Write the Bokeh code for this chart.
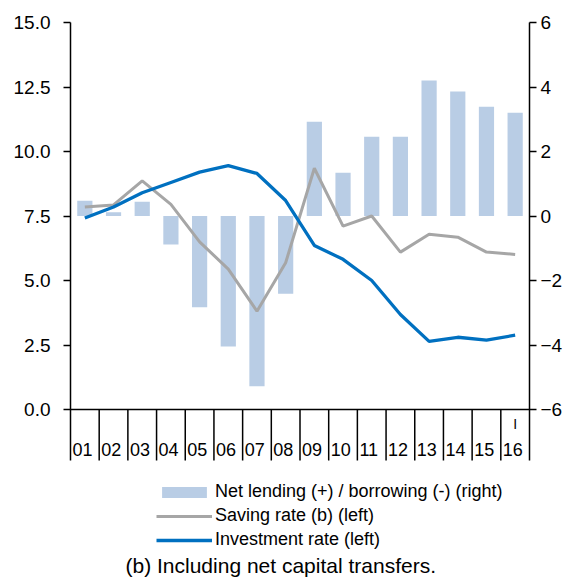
from bokeh.plotting import figure
from bokeh.models import (Range1d, LinearAxis, FixedTicker, NumeralTickFormatter,
                          Span, Legend, LegendItem, Label, ColumnDataSource)
from bokeh.core.properties import value
from bokeh.embed import file_html
from bokeh.resources import INLINE

years = ["01", "02", "03", "04", "05", "06", "07", "08",
         "09", "10", "11", "12", "13", "14", "15", "16"]
net_lending = [0.47, 0.12, 0.44, -0.88, -2.83, -4.05, -5.28, -2.41,
               2.92, 1.34, 2.46, 2.46, 4.2, 3.86, 3.39, 3.2]
saving_rate = [7.85, 7.93, 8.86, 7.95, 6.5, 5.44, 3.81, 5.69,
               9.35, 7.11, 7.5, 6.1, 6.79, 6.68, 6.1, 6.01]
investment_rate = [7.42, 7.85, 8.4, 8.8, 9.2, 9.45, 9.15, 8.1,
                   6.36, 5.82, 5.0, 3.68, 2.64, 2.8, 2.69, 2.88]
left_ticks = [0.0, 2.5, 5.0, 7.5, 10.0, 12.5, 15.0]
right_ticks = [-6, -4, -2, 0, 2, 4, 6]
quarter_mark = "I"

FONT = "Liberation Sans"
n = len(years)
xs = list(range(1, n + 1))

W, H = 566, 578
TOP, ZERO = 22, 409          # pixel rows of the 15.0 / 0.0 left ticks
p = figure(width=W, height=H, output_backend="svg", toolbar_location=None,
           x_axis_location=None, y_axis_location=None,
           min_border_left=70, min_border_right=37, min_border_top=TOP, min_border_bottom=0)
p.outline_line_color = None
p.grid.visible = False
p.background_fill_color = "white"
p.border_fill_color = "white"

px_left = (ZERO - TOP) / 15.0
px_right = (ZERO - TOP) / 12.0
p.x_range = Range1d(0.5, n + 0.5)
p.y_range = Range1d(-(H - ZERO) / px_left, 15)
p.extra_y_ranges = {"right": Range1d(-6 - (H - ZERO) / px_right, 6)}

src = ColumnDataSource(dict(x=xs, year=years, nl=net_lending,
                            sv=saving_rate, inv=investment_rate))

bars = p.vbar(x="x", top="nl", bottom=0, width=0.53, source=src,
              y_range_name="right", fill_color="#B9CDE5", line_color=None)
sav = p.line(x="x", y="sv", source=src, line_color="#A6A6A6", line_width=3)
inv = p.line(x="x", y="inv", source=src, line_color="#0070C0", line_width=3.3)

p.add_layout(Span(location=0, dimension="width", line_color="black", line_width=1.5))

# category dividers below the chart
BOTTOM = 460
div_x = [i + 0.5 for i in range(1, n)]
bottom_y = -(BOTTOM - ZERO) / px_left
p.segment(x0=div_x, y0=[0] * len(div_x), x1=div_x, y1=[bottom_y] * len(div_x),
          line_color="black", line_width=1.5)

# category labels
p.text(x=[x - 0.43 for x in xs], y=[-(448.5 - ZERO) / px_left] * n, text=years,
       text_font=value(FONT), text_font_size="18px", text_align="left",
       text_baseline="middle", text_color="black")
p.text(x=[xs[-1]], y=[-(423 - ZERO) / px_left], text=[quarter_mark],
       text_font=value(FONT), text_font_size="14px", text_align="center",
       text_baseline="middle", text_color="black")

left_axis = LinearAxis(ticker=FixedTicker(ticks=left_ticks),
                       formatter=NumeralTickFormatter(format="0.0"),
                       bounds=(bottom_y, 15))
right_axis = LinearAxis(y_range_name="right", ticker=FixedTicker(ticks=right_ticks),
                        bounds=(-6 - (BOTTOM - ZERO) / px_right, 6))
for ax in (left_axis, right_axis):
    ax.axis_line_color = "black"
    ax.axis_line_width = 1.5
    ax.major_tick_line_color = "black"
    ax.major_tick_line_width = 1.5
    ax.major_tick_out = 7
    ax.major_tick_in = 0
    ax.minor_tick_line_color = None
    ax.major_label_text_font = FONT
    ax.major_label_text_font_size = "19px"
    ax.major_label_text_color = "black"
left_axis.major_label_standoff = 13
right_axis.major_label_standoff = 4
p.add_layout(left_axis, "left")
p.add_layout(right_axis, "right")

legend = Legend(items=[
    LegendItem(label="Net lending (+) / borrowing (-) (right)", renderers=[bars]),
    LegendItem(label="Saving rate (b) (left)", renderers=[sav]),
    LegendItem(label="Investment rate (left)", renderers=[inv]),
], location=(86, 28), orientation="vertical")
legend.padding = 0
legend.margin = 0
legend.spacing = 3
legend.glyph_width = 56
legend.glyph_height = 14
legend.label_height = 20
legend.label_standoff = 3
legend.label_text_font = FONT
legend.label_text_font_size = "18px"
legend.label_text_color = "black"
legend.border_line_color = None
legend.background_fill_alpha = 0
p.add_layout(legend, "center")

note = Label(x=55, y=H - 565, x_units="screen", y_units="screen",
             text="(b) Including net capital transfers.",
             text_font=FONT, text_font_size="21px", text_color="black",
             text_baseline="middle")
p.add_layout(note)

open("out.html", "w").write(file_html(p, INLINE))
